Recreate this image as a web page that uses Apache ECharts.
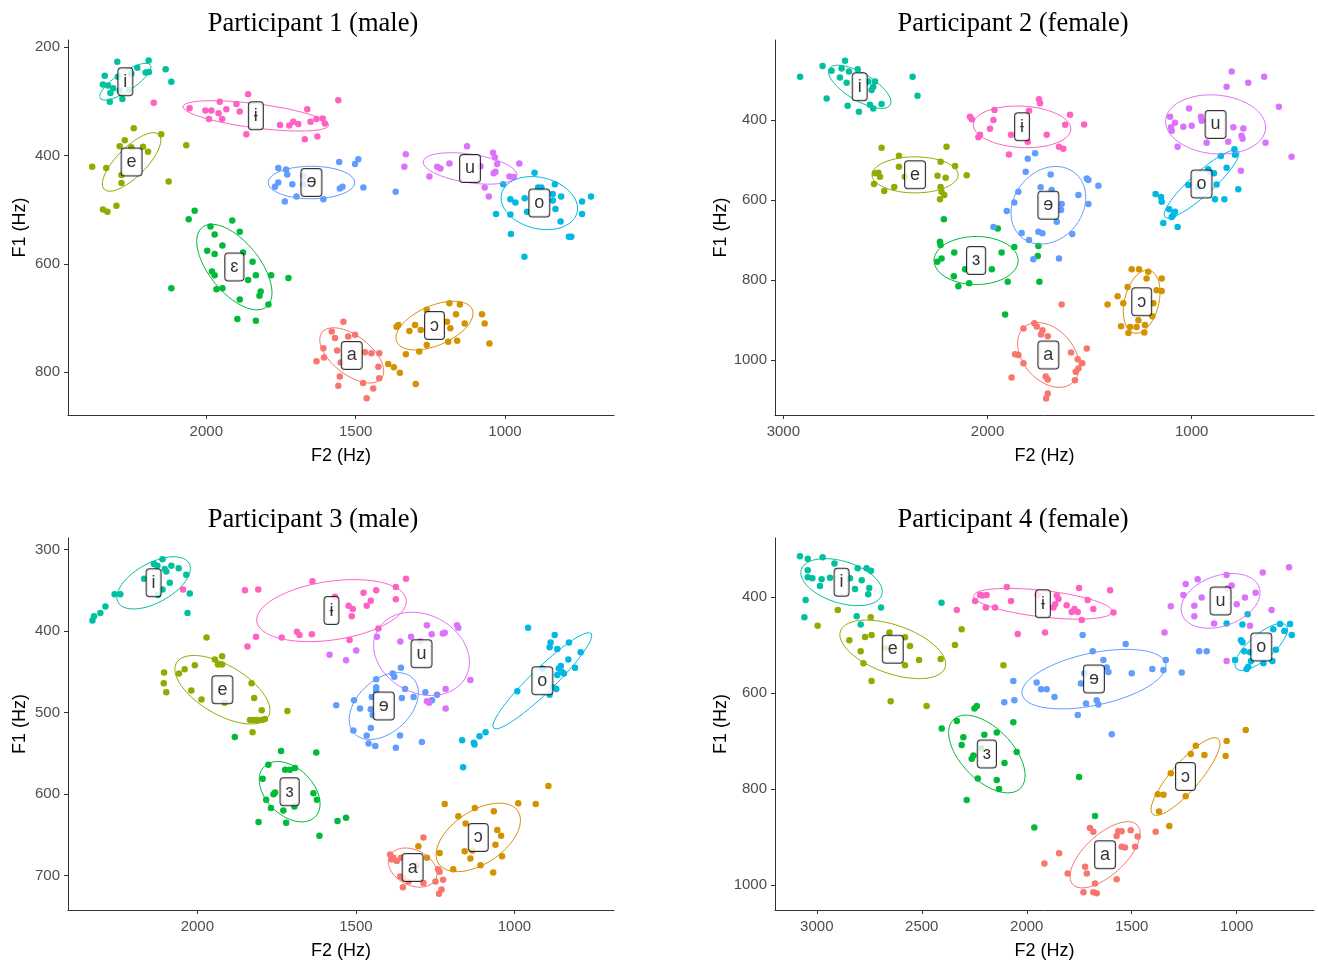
<!DOCTYPE html>
<html><head><meta charset="utf-8">
<script src="https://cdn.jsdelivr.net/npm/echarts@6/dist/echarts.min.js"></script>
<style>html,body{margin:0;padding:0;background:#fff}#c{width:1318px;height:961px}</style>
</head><body><div id="c"></div>
<script>
// vowel order (factor levels) and colours
const vowelKeys = ['a','oo','e','eh','i','o','schwa','u','ibar'];
const vowelColors = ['#F8766D','#D39200','#93AA00','#00BA38','#00C19F','#00B9E3','#619CFF','#DB72FB','#FF61C3'];
const labelsP1 = {a:'a',oo:'ɔ',e:'e',eh:'ɛ',i:'i',o:'o',schwa:'ɘ',u:'u',ibar:'ɨ'};
const labelsP234 = {a:'a',oo:'ɔ',e:'e',eh:'ɜ',i:'i',o:'o',schwa:'ɘ',u:'u',ibar:'ɨ'};

// titles and ticks
const titles = ['Participant 1 (male)','Participant 2 (female)','Participant 3 (male)','Participant 4 (female)'];
const xTicks1 = [1000,1500,2000], yTicks1 = [200,400,600,800];
const xTicks2 = [1000,2000,3000], yTicks2 = [400,600,800,1000];
const xTicks3 = [1000,1500,2000], yTicks3 = [300,400,500,600,700];
const xTicks4 = [1000,1500,2000,2500,3000], yTicks4 = [400,600,800,1000];
const xRange1 = [635,2463], yRange1 = [187,879];
const xRange2 = [401,3041], yRange2 = [200,1137];
const xRange3 = [686,2408], yRange3 = [286,742];
const xRange4 = [632,3199], yRange4 = [277,1052];

// ---------- Participant 1 : [F2, F1] ----------
const p1_i = [[2298,227],[2193,225],[2231,238],[2192,246],[2203,247],[2340,253],[2296,255],[2251,249],[2346,269],[2329,271],[2312,276],[2290,280],[2321,285],[2281,296],[2323,301],[2257,279],[2136,241],[2117,264]];
const p1_e = [[2243,350],[2151,361],[2273,372],[2290,383],[2251,385],[2212,384],[2195,393],[2067,381],[2382,421],[2335,423],[2284,436],[2284,451],[2126,448],[2346,500],[2331,504],[2301,493]];
const p1_eh = [[2039,502],[2059,518],[1913,520],[1986,531],[1972,546],[1888,541],[1946,566],[1997,576],[1972,582],[1877,579],[1981,614],[1972,621],[1860,630],[1966,647],[1946,645],[1888,666],[1896,702],[2117,645],[1845,596],[1834,621],[1783,621],[1725,626],[1818,651],[1822,659],[1792,675],[1834,705]];
const p1_ibar = [[2176,303],[1860,287],[2056,313],[2003,317],[1983,317],[1955,301],[1933,315],[1899,305],[1888,319],[1959,322],[1991,333],[1947,333],[1866,361],[1558,298],[1662,315],[1753,344],[1722,345],[1709,338],[1692,342],[1651,338],[1631,333],[1610,332],[1603,341],[1670,370],[1628,365]];
const p1_schwa = [[1759,423],[1733,426],[1729,435],[1759,450],[1770,458],[1712,453],[1675,438],[1675,453],[1698,476],[1737,485],[1608,481],[1553,461],[1544,458],[1555,412],[1502,416],[1491,407],[1474,459],[1366,467]];
const p1_u = [[1332,398],[1337,421],[1253,439],[1127,383],[1040,395],[1034,404],[1227,421],[1216,424],[1186,415],[1082,420],[1026,416],[1032,430],[1038,433],[952,415],[985,439],[971,440],[1068,459],[1054,476]];
const p1_o = [[901,432],[1006,453],[833,453],[889,459],[878,459],[982,481],[965,487],[934,479],[840,471],[840,483],[812,476],[831,499],[926,504],[982,509],[1030,508],[742,485],[712,476],[742,508],[814,522],[980,545],[786,550],[778,550],[935,587]];
const p1_a = [[1541,707],[1580,725],[1569,737],[1525,734],[1502,731],[1608,756],[1562,760],[1606,773],[1631,780],[1550,782],[1469,763],[1447,765],[1421,765],[1424,790],[1421,811],[1553,808],[1558,825],[1475,820],[1441,830],[1463,848]];
const p1_oo = [[1391,785],[1372,791],[1352,801],[1299,822],[1357,713],[1363,716],[1320,724],[1301,713],[1282,722],[1332,767],[1287,762],[1262,750],[1262,685],[1186,673],[1151,675],[1164,693],[1135,710],[1183,719],[1194,707],[1077,693],[1068,710],[1160,742],[1190,744],[1052,747]];
// ellipses: [vowel, centreF2, centreF1, halfExtentF2, halfExtentF1, correlation]
const p1_ell = [['i',2271,264,86,34,0.8],['e',2250,412,98,54,0.75],['eh',1906,606,126,79,-0.6],['ibar',1834,327,244,28,-0.6],['schwa',1648,450,145,30,0],['u',1117,424,157,29,-0.4],['o',885,488,128,49,-0.2],['a',1513,769,107,51,-0.57],['oo',1236,714,129,45,0.5]];

// ---------- Participant 2 ----------
const p2_i = [[2918,292],[2808,265],[2698,252],[2764,277],[2715,271],[2679,279],[2636,273],[2723,294],[2690,307],[2788,346],[2685,364],[2630,379],[2576,362],[2560,371],[2519,360],[2568,325],[2551,304],[2560,317],[2584,304],[2367,292],[2343,339]];
const p2_e = [[2519,469],[2201,467],[2434,489],[2434,517],[2551,533],[2535,532],[2527,542],[2556,560],[2506,577],[2457,567],[2405,542],[2230,504],[2245,539],[2205,544],[2230,567],[2225,579],[2212,587],[2233,598],[2159,515],[2102,538]];
const p2_eh = [[2214,648],[2233,704],[2230,712],[2225,746],[2246,754],[2163,731],[2165,790],[2143,815],[2110,773],[2090,808],[1979,773],[1931,731],[1869,717],[1901,804],[1950,671],[1751,715],[1754,740],[1746,804],[1914,886]];
const p2_ibar = [[2086,392],[2077,398],[2037,437],[2045,443],[1988,422],[1971,400],[1966,375],[1885,437],[1803,454],[1797,377],[1748,348],[1743,358],[1710,437],[1620,412],[1596,387],[1527,411],[1650,467],[1629,472],[1895,486]];
const p2_schwa = [[1803,497],[1767,483],[1813,529],[1691,536],[1740,568],[1686,575],[1849,579],[1869,606],[1906,627],[1637,610],[1640,625],[1661,654],[1555,587],[1514,546],[1506,550],[1457,564],[1506,610],[1833,682],[1797,700],[1751,679],[1731,683],[1585,685],[1971,667],[1776,748],[1650,746]];
const p2_a = [[1637,861],[1824,921],[1771,908],[1759,916],[1731,925],[1705,940],[1738,936],[1865,985],[1849,987],[1824,1008],[1882,1043],[1715,1041],[1705,1048],[1591,981],[1514,971],[1558,998],[1536,1008],[1555,1021],[1568,1029],[1572,1050],[1705,1083],[1713,1096]];
const p2_oo = [[1294,773],[1363,840],[1412,861],[1314,817],[1335,858],[1346,915],[1310,932],[1302,917],[1258,773],[1213,779],[1221,796],[1147,796],[1172,825],[1147,827],[1188,858],[1193,890],[1229,912],[1232,931],[1261,900],[1270,917]];
const p2_u = [[804,279],[645,292],[723,307],[829,317],[573,367],[1013,371],[1106,392],[1082,407],[1101,418],[1098,427],[1041,417],[1000,414],[955,392],[951,402],[796,418],[747,421],[756,439],[751,447],[821,454],[927,457],[638,457],[1069,467],[511,492],[759,527]];
const p2_o = [[791,473],[788,487],[857,490],[919,523],[911,529],[891,533],[829,519],[878,561],[1017,562],[968,567],[772,573],[886,598],[840,598],[1177,585],[1150,592],[1147,604],[1110,623],[1082,629],[1090,637],[1098,642],[1139,657],[1069,667]];
const p2_ell = [['i',2626,317,153,54,-0.7],['e',2355,537,211,45,0],['eh',2056,751,206,60,0],['ibar',1831,417,239,52,-0.1],['schwa',1702,613,183,97,0.2],['u',883,411,245,74,-0.1],['o',952,560,183,85,0.9],['a',1702,987,151,81,-0.35],['oo',1245,854,90,79,0.3]];

// ---------- Participant 3 ----------
const p3_i = [[2110,312],[2137,318],[2126,320],[2103,324],[2098,327],[2082,320],[2059,323],[2035,331],[2168,336],[2087,341],[2110,349],[2124,356],[2261,355],[2243,355],[2024,354],[2031,378],[2290,370],[2306,378],[2326,382],[2331,387]];
const p3_e = [[1971,408],[1945,435],[1922,431],[1935,441],[1922,441],[2008,442],[2040,447],[2058,452],[2105,451],[2106,464],[2098,475],[2019,473],[1987,484],[1914,488],[1829,464],[1821,482],[1797,497],[1716,498],[1834,509],[1823,509],[1811,509],[1797,509],[1787,508],[1826,524]];
const p3_eh = [[1882,530],[1736,547],[1625,549],[1776,564],[1723,570],[1708,570],[1692,568],[1794,581],[1755,598],[1760,600],[1783,607],[1768,617],[1729,620],[1694,615],[1634,599],[1623,607],[1807,634],[1720,635],[1558,633],[1531,629],[1615,651]];
const p3_ibar = [[2045,349],[1850,350],[1842,419],[1808,349],[1637,339],[1566,358],[1476,353],[1436,350],[1342,336],[1374,346],[1374,361],[1523,369],[1510,373],[1513,382],[1466,369],[1453,363],[1815,407],[1734,408],[1686,401],[1678,405],[1639,404],[1520,411],[1429,397]];
const p3_u = [[1583,429],[1531,436],[1499,424],[1434,407],[1360,413],[1326,407],[1297,413],[1276,393],[1261,404],[1276,486],[1269,488],[1181,393],[1177,396],[1226,403],[1220,402],[1139,460],[1217,471],[1217,495]];
const p3_schwa = [[1358,445],[1384,452],[1379,456],[1436,459],[1436,469],[1436,473],[1450,481],[1506,485],[1562,491],[1487,495],[1453,496],[1447,503],[1355,482],[1318,481],[1281,475],[1260,485],[1453,519],[1508,522],[1466,528],[1439,541],[1460,538],[1374,543],[1292,536],[1361,528],[1345,471],[1244,478]];
const p3_o = [[957,396],[873,405],[886,414],[889,420],[865,422],[828,414],[791,426],[830,435],[854,443],[860,446],[851,450],[844,452],[865,454],[809,445],[912,446],[879,469],[868,471],[889,478],[991,474],[1091,524],[1110,529],[1128,537],[1126,539],[1165,534],[1162,567]];
const p3_a = [[1287,653],[1392,674],[1387,680],[1382,678],[1371,682],[1357,678],[1360,701],[1350,703],[1352,714],[1308,687],[1334,707],[1287,709],[1241,692],[1236,695],[1225,705],[1230,717],[1238,722],[1249,707]];
const p3_oo = [[1303,664],[1276,678],[1220,612],[1125,617],[1177,627],[1154,636],[1065,621],[988,611],[933,612],[893,590],[1054,644],[1042,651],[1060,662],[1157,670],[1133,669],[1139,679],[1236,672],[1039,676],[1107,687],[1193,692],[1067,696]];
const p3_ell = [['i',2138,341,116,32,0.55],['e',1921,472,150,42,-0.6],['eh',1709,597,96,37,-0.4],['ibar',1577,375,236,38,0.3],['u',1293,428,151,51,-0.2],['schwa',1412,492,109,41,0.4],['o',912,461,156,59,0.94],['a',1321,690,77,24,-0.3],['oo',1114,653,133,42,0.5]];

// ---------- Participant 4 ----------
const p4_i = [[3080,315],[3043,320],[2972,317],[2916,330],[3043,344],[3043,359],[3021,361],[2977,363],[2985,377],[2937,360],[2805,340],[2763,340],[2742,345],[2786,365],[2818,383],[2750,381],[2755,394],[2842,361],[3053,406],[3059,442],[2810,440],[2791,457],[2694,422],[2406,412]];
const p4_e = [[2900,427],[2996,460],[2743,442],[2845,490],[2770,483],[2739,479],[2654,474],[2580,484],[2556,502],[2675,506],[2791,513],[2778,538],[2580,542],[2513,531],[2410,529],[2739,575],[2648,617],[2477,627],[2342,500],[2310,467],[2111,542]];
const p4_eh = [[2405,674],[2249,632],[2238,627],[2333,658],[2302,692],[2310,708],[2202,687],[2143,682],[2064,661],[2218,715],[2254,730],[2262,737],[2106,746],[2048,723],[2233,778],[2143,781],[2132,800],[2286,823],[1964,880],[1751,775],[1675,856]];
const p4_ibar = [[2333,427],[2246,408],[2222,396],[2211,397],[2191,396],[2195,422],[2151,422],[2095,379],[2075,408],[1948,396],[1857,397],[1849,404],[1873,422],[1865,415],[1810,417],[1786,431],[1773,425],[1757,431],[1751,381],[1710,406],[1683,425],[1603,386],[1587,432],[1738,448],[2043,477],[1913,474]];
const p4_schwa = [[1734,479],[1529,498],[1686,513],[1635,531],[1619,547],[1611,556],[1726,559],[1742,580],[1953,578],[1932,592],[1905,592],[1868,608],[2064,575],[2059,615],[2107,619],[1718,622],[1667,615],[1659,624],[1757,646],[1595,686],[1500,559],[1338,531],[1402,550],[1349,552],[1262,557],[1179,513],[1143,513]];
const p4_a = [[1699,881],[1683,889],[1564,888],[1548,888],[1572,898],[1505,886],[1548,920],[1532,922],[1484,920],[1846,934],[1916,955],[1722,962],[1714,976],[1805,976],[1572,988],[1675,997],[1667,1017],[1730,1015],[1683,1015],[1386,889],[1472,899]];
const p4_oo = [[957,677],[1048,700],[1053,731],[1195,710],[1219,727],[1154,729],[1314,767],[1376,811],[1349,812],[1243,815],[1370,847],[1321,877]];
const p4_u = [[751,338],[876,349],[1048,354],[1186,363],[1243,373],[1254,396],[1167,401],[1024,376],[1043,382],[961,401],[910,391],[1000,415],[1202,418],[1314,419],[1202,440],[1108,455],[834,427],[937,460],[1344,474],[1048,533]];
const p4_o = [[1048,455],[948,436],[973,457],[826,467],[794,456],[746,456],[773,471],[738,479],[980,490],[973,494],[964,513],[937,515],[1008,531],[932,533],[873,538],[830,533],[814,510],[953,550],[945,545]];
const p4_ell = [['i',2882,369,194,49,-0.4],['e',2638,509,252,61,-0.5],['eh',2190,727,182,81,-0.55],['ibar',1923,414,331,32,-0.5],['schwa',1680,571,343,62,0.45],['a',1627,937,167,69,0.65],['oo',1244,774,164,81,0.85],['u',1077,408,188,57,0.3],['o',883,504,125,49,0.75]];

// ---------- assembly ----------
const panels = [
  {grid:{left:68,top:40,width:546,height:375}, xr:xRange1, yr:yRange1, xt:xTicks1, yt:yTicks1, lab:labelsP1, tx:308,
   pts:{a:p1_a,oo:p1_oo,e:p1_e,eh:p1_eh,i:p1_i,o:p1_o,schwa:p1_schwa,u:p1_u,ibar:p1_ibar}, ell:p1_ell},
  {grid:{left:775,top:40,width:539,height:375}, xr:xRange2, yr:yRange2, xt:xTicks2, yt:yTicks2, lab:labelsP234, tx:1008,
   pts:{a:p2_a,oo:p2_oo,e:p2_e,eh:p2_eh,i:p2_i,o:p2_o,schwa:p2_schwa,u:p2_u,ibar:p2_ibar}, ell:p2_ell},
  {grid:{left:68,top:538,width:546,height:372}, xr:xRange3, yr:yRange3, xt:xTicks3, yt:yTicks3, lab:labelsP234, tx:308,
   pts:{a:p3_a,oo:p3_oo,e:p3_e,eh:p3_eh,i:p3_i,o:p3_o,schwa:p3_schwa,u:p3_u,ibar:p3_ibar}, ell:p3_ell},
  {grid:{left:775,top:538,width:539,height:372}, xr:xRange4, yr:yRange4, xt:xTicks4, yt:yTicks4, lab:labelsP234, tx:1008,
   pts:{a:p4_a,oo:p4_oo,e:p4_e,eh:p4_eh,i:p4_i,o:p4_o,schwa:p4_schwa,u:p4_u,ibar:p4_ibar}, ell:p4_ell}
];

function ellipsePath(cx, cy, sx, sy, rho) {
  const out = [], s = Math.sqrt(1 - rho * rho), n = 120;
  for (let k = 0; k <= n; k++) {
    const t = 2 * Math.PI * k / n;
    out.push([cx + sx * Math.cos(t), cy + sy * (rho * Math.cos(t) + s * Math.sin(t))]);
  }
  return out;
}
const colorOf = k => vowelColors[vowelKeys.indexOf(k)];
const FONT = 'Liberation Sans, Arial, sans-serif';

const grids = [], xAxes = [], yAxes = [], series = [], titleArr = [];
panels.forEach((p, idx) => {
  grids.push(p.grid);
  titleArr.push({text: titles[idx], left: p.tx, top: idx < 2 ? 6 : 502, textAlign: 'center',
    textStyle: {fontFamily: 'Liberation Serif, Times New Roman, serif', fontSize: 26.5, fontWeight: 'normal', color: '#000'}});
  const axCommon = {
    type: 'value', gridIndex: idx, inverse: true, splitLine: {show: false},
    axisLine: {show: true, onZero: false, lineStyle: {color: '#333', width: 1}},
    nameLocation: 'middle', nameTextStyle: {fontFamily: FONT, fontSize: 18, color: '#000'}
  };
  xAxes.push(Object.assign({}, axCommon, {
    min: p.xr[0], max: p.xr[1], name: 'F2 (Hz)', nameGap: 32,
    axisTick: {show: true, length: 4, customValues: p.xt, lineStyle: {color: '#333'}},
    axisLabel: {customValues: p.xt, formatter: v => String(v), fontFamily: FONT, fontSize: 15, color: '#4d4d4d', margin: 9}
  }));
  yAxes.push(Object.assign({}, axCommon, {
    min: p.yr[0], max: p.yr[1], name: 'F1 (Hz)', nameGap: 39,
    axisTick: {show: true, length: 4, customValues: p.yt, lineStyle: {color: '#333'}},
    axisLabel: {customValues: p.yt, formatter: v => String(v), fontFamily: FONT, fontSize: 15, color: '#4d4d4d', margin: 8}
  }));
  vowelKeys.forEach(k => {
    series.push({type: 'scatter', xAxisIndex: idx, yAxisIndex: idx, data: p.pts[k], symbolSize: 6.5,
      itemStyle: {color: colorOf(k), opacity: 1}, z: 2, silent: true});
  });
  p.ell.forEach(e => {
    series.push({type: 'line', xAxisIndex: idx, yAxisIndex: idx, data: ellipsePath(e[1], e[2], e[3], e[4], e[5]),
      showSymbol: false, symbol: 'none', smooth: false, lineStyle: {color: colorOf(e[0]), width: 1}, z: 3, silent: true});
  });
  series.push({type: 'scatter', xAxisIndex: idx, yAxisIndex: idx, symbolSize: 1, z: 5, silent: true,
    itemStyle: {color: 'rgba(0,0,0,0)'},
    data: p.ell.map(e => ({value: [e[1], e[2]], name: p.lab[e[0]]})),
    label: {show: true, position: 'inside', formatter: q => q.name, fontFamily: 'Liberation Sans, DejaVu Sans, sans-serif',
      fontSize: 18, color: '#000', backgroundColor: '#fff', borderColor: '#000', borderWidth: 1, borderRadius: 3,
      padding: [5, 5, 4, 5]}
  });
});

const chart = echarts.init(document.getElementById('c'), null, {renderer: 'canvas'});
chart.setOption({animation: false, backgroundColor: '#fff', title: titleArr, grid: grids, xAxis: xAxes, yAxis: yAxes, series: series});
</script></body></html>
